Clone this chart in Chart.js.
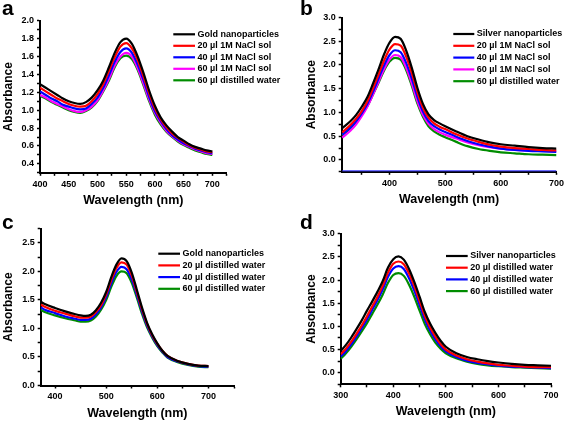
<!DOCTYPE html>
<html>
<head>
<meta charset="utf-8">
<script src="https://cdn.jsdelivr.net/npm/chart.js@4.4.0/dist/chart.umd.min.js"></script>
<style>
  body { margin: 0; background: #fff; width: 567px; height: 424px; position: relative; overflow: hidden; font-family: 'Liberation Sans', Arial, sans-serif; }
  canvas { position: absolute; }
  .tag { position: absolute; font-weight: bold; font-size: 21px; line-height: 21px; color: #000; }
</style>
</head>
<body>
<canvas id="chartA" width="283" height="212" style="left:0;top:0"></canvas>
<canvas id="chartB" width="284" height="212" style="left:283px;top:0"></canvas>
<canvas id="chartC" width="283" height="212" style="left:0;top:212px"></canvas>
<canvas id="chartD" width="284" height="212" style="left:283px;top:212px"></canvas>
<div class="tag" style="left:2px;top:-3px">a</div>
<div class="tag" style="left:300px;top:-3px">b</div>
<div class="tag" style="left:2px;top:211px">c</div>
<div class="tag" style="left:300px;top:211px">d</div>
<script>
// panel a: gold nanoparticles + NaCl
const waveA = [400,410,420,430,440,450,460,470,480,490,500,510,520,530,540,550,560,570,580,590,600,610,620,630,640,650,660,670,680,690,700];
const goldA = [1.29,1.25,1.21,1.17,1.13,1.10,1.08,1.07,1.09,1.14,1.22,1.33,1.48,1.64,1.76,1.80,1.74,1.60,1.42,1.22,1.05,0.92,0.83,0.76,0.70,0.66,0.62,0.59,0.57,0.55,0.54];
const nacl20A = [1.25,1.21,1.17,1.13,1.10,1.07,1.05,1.04,1.05,1.10,1.18,1.29,1.44,1.59,1.71,1.75,1.69,1.56,1.38,1.19,1.02,0.90,0.81,0.74,0.69,0.65,0.61,0.58,0.56,0.54,0.53];
const nacl40A = [1.21,1.17,1.13,1.10,1.06,1.04,1.02,1.01,1.02,1.07,1.14,1.25,1.39,1.54,1.65,1.69,1.64,1.51,1.34,1.15,0.99,0.88,0.79,0.72,0.67,0.63,0.60,0.57,0.55,0.53,0.52];
const nacl60A = [1.17,1.14,1.10,1.07,1.04,1.01,0.99,0.98,1.00,1.04,1.11,1.22,1.35,1.50,1.60,1.64,1.60,1.47,1.30,1.12,0.97,0.86,0.77,0.71,0.66,0.62,0.59,0.56,0.54,0.52,0.51];
const water60A = [1.16,1.13,1.09,1.06,1.03,1.00,0.98,0.97,0.99,1.03,1.10,1.21,1.33,1.48,1.58,1.61,1.57,1.45,1.28,1.10,0.95,0.84,0.76,0.70,0.65,0.61,0.58,0.55,0.53,0.51,0.50];

// panel b: silver nanoparticles + NaCl
const waveB = [315,330,340,350,360,370,380,390,400,410,420,430,440,450,460,470,480,490,500,520,540,560,580,600,625,650,675,700];
const silverB = [0.67,0.82,0.95,1.12,1.32,1.60,1.90,2.22,2.47,2.59,2.55,2.30,1.94,1.52,1.18,0.96,0.84,0.77,0.71,0.60,0.50,0.43,0.37,0.33,0.30,0.27,0.25,0.24];
const nacl20B = [0.58,0.74,0.87,1.03,1.23,1.50,1.79,2.09,2.33,2.44,2.41,2.17,1.83,1.43,1.10,0.89,0.77,0.70,0.65,0.54,0.45,0.38,0.32,0.28,0.25,0.23,0.21,0.20];
const nacl40B = [0.53,0.69,0.82,0.98,1.18,1.43,1.71,1.99,2.21,2.31,2.27,2.04,1.71,1.33,1.02,0.82,0.71,0.64,0.59,0.49,0.40,0.33,0.28,0.24,0.21,0.19,0.18,0.17];
const nacl60B = [0.47,0.62,0.75,0.92,1.12,1.37,1.64,1.91,2.12,2.21,2.17,1.94,1.61,1.24,0.95,0.76,0.65,0.58,0.53,0.45,0.37,0.31,0.27,0.24,0.21,0.20,0.19,0.18];
const water60B = [0.52,0.67,0.80,0.95,1.13,1.37,1.62,1.88,2.07,2.15,2.11,1.89,1.56,1.19,0.91,0.71,0.60,0.53,0.48,0.38,0.29,0.23,0.19,0.16,0.14,0.12,0.11,0.10];
const baseWaveB = [315,700];
const baseB = [-0.23,-0.23];

// panel c: gold nanoparticles + distilled water
const waveC = [372,380,400,420,440,450,460,470,480,490,500,510,520,530,540,550,560,570,580,590,600,610,620,640,660,680,700];
const goldC = [1.47,1.43,1.36,1.30,1.25,1.23,1.22,1.24,1.32,1.45,1.64,1.90,2.12,2.23,2.18,1.98,1.68,1.37,1.10,0.90,0.74,0.61,0.52,0.43,0.38,0.35,0.34];
const water20C = [1.42,1.38,1.31,1.26,1.21,1.19,1.19,1.21,1.29,1.41,1.60,1.85,2.06,2.16,2.12,1.93,1.64,1.34,1.08,0.88,0.73,0.61,0.52,0.43,0.38,0.35,0.34];
const water40C = [1.37,1.33,1.27,1.21,1.17,1.15,1.15,1.17,1.25,1.37,1.55,1.79,1.99,2.08,2.04,1.86,1.59,1.30,1.05,0.86,0.71,0.59,0.50,0.42,0.37,0.34,0.33];
const water60C = [1.33,1.29,1.23,1.18,1.14,1.12,1.12,1.14,1.21,1.33,1.50,1.73,1.92,2.00,1.97,1.80,1.54,1.26,1.02,0.84,0.69,0.58,0.49,0.41,0.36,0.33,0.32];

// panel d: silver nanoparticles + distilled water
const waveD = [300,310,320,330,340,350,360,370,380,390,400,410,420,430,440,450,460,470,480,490,500,520,540,560,580,600,625,650,675,700];
const silverD = [0.47,0.60,0.76,0.94,1.13,1.34,1.54,1.75,1.98,2.27,2.45,2.51,2.44,2.24,1.96,1.64,1.31,1.06,0.86,0.69,0.56,0.42,0.34,0.29,0.25,0.22,0.19,0.17,0.16,0.15];
const water20D = [0.40,0.52,0.67,0.84,1.02,1.22,1.43,1.64,1.88,2.16,2.35,2.40,2.34,2.14,1.87,1.55,1.23,0.98,0.78,0.62,0.50,0.37,0.29,0.24,0.20,0.17,0.15,0.13,0.12,0.12];
const water40D = [0.35,0.47,0.61,0.78,0.96,1.15,1.36,1.57,1.80,2.07,2.25,2.30,2.24,2.04,1.77,1.46,1.15,0.91,0.72,0.57,0.46,0.34,0.26,0.21,0.18,0.15,0.13,0.12,0.11,0.10];
const water60D = [0.30,0.42,0.56,0.72,0.89,1.07,1.27,1.47,1.69,1.94,2.11,2.15,2.09,1.90,1.64,1.34,1.05,0.83,0.65,0.52,0.42,0.31,0.24,0.19,0.16,0.14,0.12,0.11,0.10,0.09];

// tick positions
const ticksXA = [400,425,450,475,500,525,550,575,600,625,650,675,700,725];
const ticksYA = [0.3,0.4,0.5,0.6,0.7,0.8,0.9,1.0,1.1,1.2,1.3,1.4,1.5,1.6,1.7,1.8,1.9,2.0];
const ticksXB = [350,400,450,500,550,600,650,700];
const ticksYB = [-0.25,0,0.25,0.5,0.75,1.0,1.25,1.5,1.75,2.0,2.25,2.5,2.75,3.0];
const ticksXC = [400,450,500,550,600,650,700,750];
const ticksYC = [0,0.25,0.5,0.75,1.0,1.25,1.5,1.75,2.0,2.25,2.5,2.75];
const ticksXD = [300,350,400,450,500,550,600,650,700];
const ticksYD = [-0.25,0,0.25,0.5,0.75,1.0,1.25,1.5,1.75,2.0,2.25,2.5,2.75,3.0];

const FONT = "'Liberation Sans', Arial, sans-serif";
Chart.defaults.font.family = FONT;
Chart.defaults.color = '#000';

const BLACK = '#000000', RED = '#ff0000', BLUE = '#0000ff', MAGENTA = '#ff00ff', GREEN = '#008c00';

function pts(xs, ys) {
    return xs.map((x, i) => ({x: x, y: ys[i]}));
}

function series(label, xs, ys, color) {
    return {
        label: label,
        data: pts(xs, ys),
        borderColor: color,
        backgroundColor: color,
        borderWidth: 2.2,
        pointRadius: 0,
        fill: false,
        cubicInterpolationMode: 'monotone'
    };
}

// legend drawn inside the plot area, one entry per row
const rowLegend = {
    id: 'rowLegend',
    afterDatasetsDraw(chart, args, opts) {
        const ctx = chart.ctx;
        ctx.save();
        ctx.font = 'bold 9px ' + FONT;
        ctx.textBaseline = 'middle';
        chart.data.datasets.filter(d => d.label).forEach((d, i) => {
            const y = opts.y + i * opts.gap;
            ctx.strokeStyle = d.borderColor;
            ctx.lineWidth = 2.2;
            ctx.beginPath();
            ctx.moveTo(opts.x, y);
            ctx.lineTo(opts.x + opts.len, y);
            ctx.stroke();
            ctx.fillStyle = '#000';
            ctx.fillText(d.label, opts.x + opts.len + 2.5, y);
        });
        ctx.restore();
    }
};

function makePanel(id, box, datasets, xs, ys, legend) {
    const canvas = document.getElementById(id);
    const W = canvas.width, H = canvas.height;
    const padLeft = box.yTitleX - 7.2;
    const padBottom = H - box.xTitleY - 7.5;
    const yWidth = box.left - padLeft;
    const xHeight = H - padBottom - box.bottom;

    const axisGrid = {drawOnChartArea: false, drawTicks: true, tickLength: 3, tickWidth: 1.5, tickColor: '#000'};
    const axisBorder = {display: true, color: '#000', width: 2};

    return new Chart(canvas.getContext('2d'), {
        type: 'line',
        data: {datasets: datasets},
        options: {
            responsive: false,
            animation: false,
            devicePixelRatio: 1,
            layout: {padding: {left: padLeft, top: box.top, right: W - box.right, bottom: padBottom}},
            plugins: {
                legend: {display: false},
                tooltip: {enabled: false},
                rowLegend: legend
            },
            scales: {
                x: {
                    type: 'linear',
                    min: xs.min,
                    max: xs.max,
                    grid: axisGrid,
                    border: axisBorder,
                    afterBuildTicks: s => { s.ticks = xs.ticks.map(v => ({value: v})); },
                    afterFit: s => { s.height = xHeight; },
                    ticks: {
                        autoSkip: false,
                        maxRotation: 0,
                        padding: 3,
                        font: {size: 9, weight: 'bold'},
                        callback: v => (v % xs.step === 0 ? String(v) : '')
                    },
                    title: {display: true, text: 'Wavelength (nm)', padding: 0, font: {size: 12.5, weight: 'bold'}}
                },
                y: {
                    type: 'linear',
                    min: ys.min,
                    max: ys.max,
                    grid: axisGrid,
                    border: axisBorder,
                    afterBuildTicks: s => { s.ticks = ys.ticks.map(v => ({value: v})); },
                    afterFit: s => { s.width = yWidth; },
                    ticks: {
                        autoSkip: false,
                        padding: 3,
                        font: {size: 9, weight: 'bold'},
                        callback: v => {
                            const k = v / ys.step;
                            return (v >= 0 && Math.abs(k - Math.round(k)) < 1e-6) ? v.toFixed(1) : '';
                        }
                    },
                    title: {display: true, text: 'Absorbance', padding: 0, font: {size: 12, weight: 'bold'}}
                }
            }
        },
        plugins: [rowLegend]
    });
}

makePanel('chartA',
    {left: 40, right: 226.7, top: 20.7, bottom: 172.8, yTitleX: 8.8, xTitleY: 200.7},
    [
        series('Gold nanoparticles', waveA, goldA, BLACK),
        series('20 µl 1M NaCl sol', waveA, nacl20A, RED),
        series('40 µl 1M NaCl sol', waveA, nacl40A, BLUE),
        series('60 µl 1M NaCl sol', waveA, nacl60A, MAGENTA),
        series('60 µl distilled water', waveA, water60A, GREEN)
    ],
    {min: 400, max: 725, ticks: ticksXA, step: 50},
    {min: 0.3, max: 2.0, ticks: ticksYA, step: 0.2},
    {x: 173.3, y: 34.3, gap: 11.5, len: 21.7}
);

const baselineB = series(undefined, baseWaveB, baseB, '#3a3aff');
baselineB.borderWidth = 1.2;

makePanel('chartB',
    {left: 58.7, right: 274.7, top: 17.5, bottom: 171.8, yTitleX: 28.3, xTitleY: 200},
    [
        series('Silver nanoparticles', waveB, silverB, BLACK),
        series('20 µl 1M NaCl sol', waveB, nacl20B, RED),
        series('40 µl 1M NaCl sol', waveB, nacl40B, BLUE),
        series('60 µl 1M NaCl sol', waveB, nacl60B, MAGENTA),
        series('60 µl distilled water', waveB, water60B, GREEN),
        baselineB
    ],
    {min: 314, max: 700, ticks: ticksXB, step: 100},
    {min: -0.25, max: 3.0, ticks: ticksYB, step: 0.5},
    {x: 170.3, y: 34, gap: 11.8, len: 21}
);

makePanel('chartC',
    {left: 40.7, right: 234, top: 16.7, bottom: 173.5, yTitleX: 8.3, xTitleY: 201.7},
    [
        series('Gold nanoparticles', waveC, goldC, BLACK),
        series('20 µl distilled water', waveC, water20C, RED),
        series('40 µl distilled water', waveC, water40C, BLUE),
        series('60 µl distilled water', waveC, water60C, GREEN)
    ],
    {min: 372, max: 750, ticks: ticksXC, step: 100},
    {min: 0, max: 2.75, ticks: ticksYC, step: 0.5},
    {x: 158.3, y: 41.7, gap: 11.7, len: 21.7}
);

makePanel('chartD',
    {left: 57.7, right: 268, top: 21.7, bottom: 172.3, yTitleX: 28.3, xTitleY: 200},
    [
        series('Silver nanoparticles', waveD, silverD, BLACK),
        series('20 µl distilled water', waveD, water20D, RED),
        series('40 µl distilled water', waveD, water40D, BLUE),
        series('60 µl distilled water', waveD, water60D, GREEN)
    ],
    {min: 300, max: 700, ticks: ticksXD, step: 100},
    {min: -0.25, max: 3.0, ticks: ticksYD, step: 0.5},
    {x: 163, y: 44, gap: 11.7, len: 21.7}
);
</script>
</body>
</html>
